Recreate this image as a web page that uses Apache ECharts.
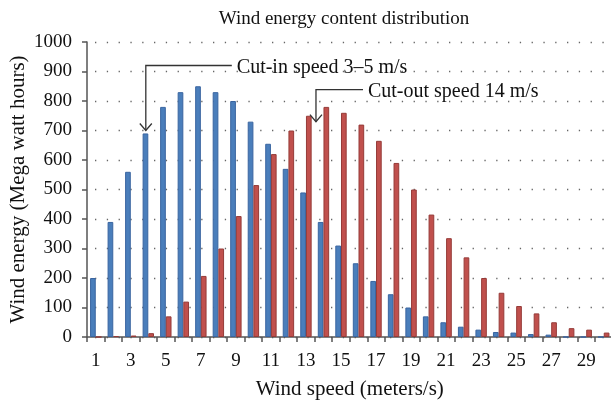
<!DOCTYPE html>
<html>
<head>
<meta charset="utf-8">
<script src="https://cdn.jsdelivr.net/npm/echarts@6/dist/echarts.min.js"></script>
<style>
html,body{margin:0;padding:0;background:#fff;}
#chart{width:611px;height:401px;}
</style>
</head>
<body>
<div id="chart"></div>
<script>
const categories = ['1','2','3','4','5','6','7','8','9','10','11','12','13','14','15','16','17','18','19','20','21','22','23','24','25','26','27','28','29','30'];
const blueSeries = [200,390,560,690,780,830,850,830,800,730,655,570,490,390,310,250,190,145,100,70,50,35,25,17,15,10,8,0,0,0];
const redSeries = [0,3,5,13,70,120,207,300,410,515,620,700,750,780,760,720,665,590,500,415,335,270,200,150,105,80,50,30,25,15];
const yTicks = {min:0, max:1000, interval:100};
const titleText = 'Wind energy content distribution';
const xName = 'Wind speed (meters/s)';
const yName = 'Wind energy (Mega watt hours)';
const annotations = [
  {text:'Cut-in speed 3\u20135 m/s', cat:'4', value:700},
  {text:'Cut-out speed 14 m/s', cat:'14', value:730}
];
// styling for annotations (pixel offsets)
const annoStyle = [
  {dx:-2.5, elbowUp:65, hLen:86, textGap:5},
  {dx:-7.5, elbowUp:32, hLen:47, textGap:5}
];

const FONT = "'Liberation Serif','DejaVu Serif',serif";
const chart = echarts.init(document.getElementById('chart'), null, {renderer:'canvas'});
chart.setOption({
  animation:false,
  backgroundColor:'#fff',
  title:{text:titleText,left:339,textAlign:'center',top:5,textStyle:{fontFamily:FONT,fontSize:19,fontWeight:'normal',color:'#111'}},
  grid:{left:87,right:-1.5,top:42,bottom:64,containLabel:false,outerBoundsMode:'none'},
  xAxis:{
    type:'category',data:categories,boundaryGap:true,
    name:xName,nameLocation:'middle',nameGap:42,nameMoveOverlap:false,
    nameTextStyle:{fontFamily:FONT,fontSize:21,color:'#111'},
    axisLine:{lineStyle:{color:'#555',width:1.5}},
    axisTick:{show:true,interval:0,length:5,alignWithLabel:false,lineStyle:{color:'#555',width:1.5}},
    axisLabel:{interval:1,margin:15,fontFamily:FONT,fontSize:19,color:'#111'},
    splitLine:{show:false}
  },
  yAxis:{
    type:'value',min:yTicks.min,max:yTicks.max,interval:yTicks.interval,
    name:yName,nameLocation:'middle',nameGap:58,nameMoveOverlap:false,
    nameTextStyle:{fontFamily:FONT,fontSize:21,color:'#111'},
    axisLine:{show:true,lineStyle:{color:'#555',width:1.5}},
    axisTick:{show:true,length:5,lineStyle:{color:'#555',width:1.5}},
    axisLabel:{margin:15,fontFamily:FONT,fontSize:19,color:'#111',formatter:(v)=>String(v)},
    splitLine:{show:true,lineStyle:{color:'#666',width:1.3,type:[1.3,10.5],dashOffset:-8}}
  },
  series:[
    {type:'bar',data:blueSeries,barWidth:'32.5%',barGap:'0%',
     itemStyle:{color:'#4a7ebb',borderColor:'#3a65a0',borderWidth:1}},
    {type:'bar',data:redSeries,barWidth:'32.5%',barGap:'0%',
     itemStyle:{color:'#c0504d',borderColor:'#953b38',borderWidth:1}}
  ]
});

const graphics = [];
annotations.forEach((a,i)=>{
  const s = annoStyle[i];
  const p = chart.convertToPixel({xAxisIndex:0,yAxisIndex:0},[a.cat,a.value]);
  const tx = p[0]+s.dx, ty = p[1];
  const ey = ty - s.elbowUp;
  const ex = tx + s.hLen;
  graphics.push({type:'polyline',shape:{points:[[ex,ey],[tx,ey],[tx,ty]]},style:{stroke:'#333',lineWidth:1.3,fill:null},z:100});
  graphics.push({type:'polyline',shape:{points:[[tx-6,ty-7],[tx,ty],[tx+6,ty-7]]},style:{stroke:'#333',lineWidth:1.3,fill:null},z:100});
  graphics.push({type:'text',x:ex+s.textGap,y:ey+2,style:{text:a.text,font:"20px "+FONT,fill:'#111',verticalAlign:'middle',align:'left'},z:100});
});
chart.setOption({graphic:graphics});
</script>
</body>
</html>
